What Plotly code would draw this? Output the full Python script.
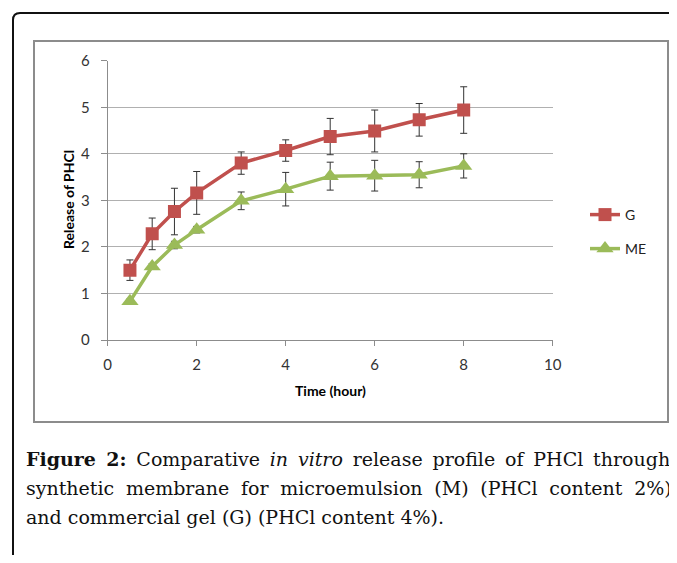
import plotly.graph_objects as go

# The page keeps an 8px body margin, so the figure is sized to fill the
# 677x563 window exactly inside it.
PAGE_W, PAGE_H = 677, 563
M = 8
W, H = PAGE_W - 2 * M, PAGE_H - 2 * M

time_h = [0.5, 1, 1.5, 2, 3, 4, 5, 6, 7, 8]
g_vals = [1.50, 2.28, 2.76, 3.16, 3.80, 4.07, 4.37, 4.49, 4.73, 4.94]
g_err = [0.22, 0.34, 0.50, 0.46, 0.24, 0.23, 0.39, 0.45, 0.35, 0.50]
me_vals = [0.83, 1.58, 2.04, 2.37, 2.99, 3.24, 3.52, 3.53, 3.55, 3.74]
me_err = [0.05, 0.06, 0.08, 0.07, 0.19, 0.36, 0.30, 0.33, 0.28, 0.26]

x_ticks = [0, 2, 4, 6, 8, 10]
y_ticks = [0, 1, 2, 3, 4, 5, 6]

HS = "\u200a"  # hair space, widens gaps to mimic justified text
caption_lines = [
    ("<b>Figure 2:</b> Comparative <i>in vitro</i> release profile of PHCl through").replace(" ", " " + HS * 2),
    "synthetic membrane for microemulsion (M) (PHCl content 2%)".replace(" ", " " + HS * 3),
    "and commercial gel (G) (PHCl content 4%).",
]

def px(x):
    return min(max((x - M) / W, 0.0), 1.0)

def py(y):
    return min(max(1 - (y - M) / H, 0.0), 1.0)

fig = go.Figure()

fig.add_trace(go.Scatter(
    x=time_h, y=g_vals, name="G", mode="lines+markers",
    line=dict(color="#c0504d", width=3.5),
    marker=dict(symbol="square", size=13, color="#c0504d"),
    error_y=dict(type="data", array=g_err, visible=True, color="#333333", thickness=1, width=3.5),
    legend="legend",
))
fig.add_trace(go.Scatter(
    x=time_h, y=me_vals, name="ME", mode="lines+markers",
    line=dict(color="#9bbb59", width=3.5),
    marker=dict(symbol="triangle-up", size=15, color="#9bbb59"),
    error_y=dict(type="data", array=me_err, visible=True, color="#333333", thickness=1, width=3.5),
    legend="legend2",
))

tickfont = dict(family="Lato, Open Sans, sans-serif", size=15, color="#333333")

fig.update_layout(
    width=W, height=H,
    margin=dict(l=0, r=0, t=0, b=0, autoexpand=False),
    paper_bgcolor="white", plot_bgcolor="white",
    showlegend=True,
    xaxis=dict(
        domain=[px(107.7), px(552.7)], range=[0, 10],
        tickvals=x_ticks, ticktext=[str(v) for v in x_ticks],
        showgrid=False, zeroline=False,
        showline=True, linecolor="#8c8c8c", linewidth=1,
        ticks="outside", ticklen=5, tickcolor="#8c8c8c",
        tickfont=tickfont, ticklabelstandoff=6, automargin=False,
    ),
    yaxis=dict(
        domain=[py(340), py(60.7)], range=[0, 6],
        tickvals=y_ticks, ticktext=[str(v) for v in y_ticks],
        showgrid=True, gridcolor="#b0b0b0", gridwidth=1,
        zeroline=False,
        showline=True, linecolor="#8c8c8c", linewidth=1,
        ticks="outside", ticklen=6, tickcolor="#8c8c8c",
        tickfont=tickfont, ticklabelstandoff=8, automargin=False,
    ),
    legend=dict(
        x=px(585), y=py(215), xanchor="left", yanchor="middle",
        font=dict(family="Lato, sans-serif", size=14, color="#222222"),
        bgcolor="rgba(0,0,0,0)", itemwidth=30,
    ),
    legend2=dict(
        x=px(585), y=py(249), xanchor="left", yanchor="middle",
        font=dict(family="Lato, sans-serif", size=14, color="#222222"),
        bgcolor="rgba(0,0,0,0)", itemwidth=30,
    ),
)

shapes = []
r = 7
path = (f"M {px(13)},{py(563)} L {px(13)},{py(13 + r)} "
        f"Q {px(13)},{py(13)} {px(13 + r)},{py(13)} L {px(677)},{py(13)}")
shapes.append(dict(type="path", xref="paper", yref="paper", path=path,
                   line=dict(color="#111111", width=2), layer="below"))
shapes.append(dict(type="rect", xref="paper", yref="paper",
                   x0=px(34), x1=px(668), y0=py(422), y1=py(41),
                   line=dict(color="#8c8c8c", width=2), layer="below"))
fig.update_layout(shapes=shapes)

annotations = [
    dict(text="<b>Time (hour)</b>", x=px(330), y=py(390), xref="paper", yref="paper",
         showarrow=False, xanchor="center", yanchor="middle",
         font=dict(family="Lato, sans-serif", size=14, color="#000000")),
    dict(text="<b>Release of PHCl</b>", x=px(68), y=py(200), xref="paper", yref="paper",
         showarrow=False, xanchor="center", yanchor="middle", textangle=-90,
         font=dict(family="Lato, sans-serif", size=14, color="#000000")),
]
cap_y = [459, 488, 517]
for line, yy in zip(caption_lines, cap_y):
    annotations.append(dict(
        text=line, x=px(24), y=py(yy), xref="paper", yref="paper",
        showarrow=False, xanchor="left", yanchor="middle", align="left",
        font=dict(family="DejaVu Serif, serif", size=19, color="#111111"),
    ))
fig.update_layout(annotations=annotations)

fig.write_html("out.html", config={"displayModeBar": False})
